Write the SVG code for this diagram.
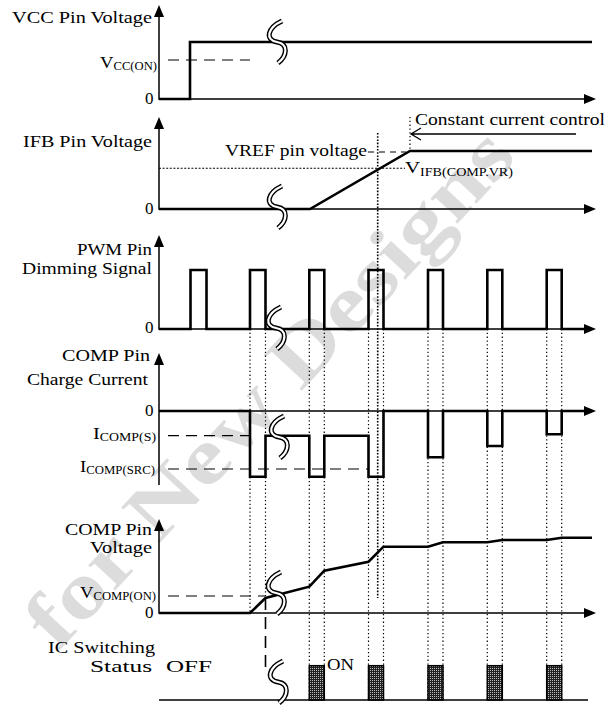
<svg xmlns="http://www.w3.org/2000/svg" width="616" height="705" viewBox="0 0 616 705" font-family="'Liberation Serif', 'Times New Roman', Times, serif">
<style>
.t{font-family:'Liberation Serif','Times New Roman',Times,serif;font-size:17px;fill:#000}
.sub{font-size:11.5px}
.axis{stroke:#000;stroke-width:1.5;fill:none}
.sig{stroke:#000;stroke-width:2.6;fill:none;stroke-linejoin:miter}
.dash{stroke:#000;stroke-width:1.2;fill:none;stroke-dasharray:11 7}
.dot{stroke:#000;stroke-width:1.2;fill:none;stroke-dasharray:1.3 2.5}
.dot2{stroke:#000;stroke-width:1.6;fill:none;stroke-dasharray:1.6 1.6}
.hdot{stroke:#000;stroke-width:1.1;fill:none;stroke-dasharray:2 1.6}
.brkb{stroke:#000;stroke-width:5;fill:none}
.brkw{stroke:#fff;stroke-width:2.2;fill:none}
.wm{font-family:'Liberation Serif','Times New Roman',Times,serif;font-size:80px;font-weight:700;fill:#dcdcdc}
</style>
<defs>
<path id="brk" d="M5,-21 C-10,-14 -12,-2 0,0 C12,2 10,14 1,21"/>
<pattern id="hatch" width="2" height="2" patternUnits="userSpaceOnUse">
<rect width="2" height="2" fill="#222"/>
<rect width="1" height="1" fill="#bbb"/>
</pattern>
</defs>
<rect width="616" height="705" fill="#fff"/>
<text class="wm" transform="translate(58,652) rotate(-47)" textLength="675" lengthAdjust="spacingAndGlyphs">for New Designs</text>

<g id="guides">
<path class="dot" d="M250,329V613M265.5,329V596M309.3,329V700M324.3,329V700M368.5,329V700M383.5,329V700M428,329V700M443,329V700M487.3,329V700M502.3,329V700M546.7,329V700M561.7,329V700"/>
<path class="dot2" d="M377.7,133V598"/>
<path class="dot" d="M410,117V150"/>
<path class="hdot" d="M159,168.3H405"/>
<path class="dash" d="M168,60H250"/>
<path class="dash" d="M168,435.7H252"/>
<path class="dash" d="M168,469H368"/>
<path class="dash" d="M168,596H265.5"/>
<path stroke="#000" stroke-width="1.6" fill="none" stroke-dasharray="12 7" d="M265.5,598V672"/>
<path stroke="#000" stroke-width="1.2" fill="none" stroke-dasharray="6 5" d="M368,152H406"/>
</g>

<g id="vcc">
<path class="axis" d="M159,14V99H586"/>
<polygon points="159,5 154,17 164,17"/>
<polygon points="596,99 584,94 584,104"/>
<path class="sig" d="M159,99H190V42H592"/>
<use href="#brk" class="brkb" x="277" y="42"/><use href="#brk" class="brkw" x="277" y="42"/>
<text class="t" x="12" y="23" textLength="140" lengthAdjust="spacingAndGlyphs">VCC Pin Voltage</text>
<text class="t" x="100" y="68" textLength="57" lengthAdjust="spacingAndGlyphs">V<tspan class="sub" dy="2">CC(ON)</tspan></text>
<text class="t" x="145" y="104">0</text>
</g>

<g id="ifb">
<path class="axis" d="M159,126V209H586"/>
<polygon points="159,117 154,129 164,129"/>
<polygon points="596,209 584,204 584,214"/>
<path class="sig" d="M159,209H310L410,151H592"/>
<use href="#brk" class="brkb" x="277" y="207"/><use href="#brk" class="brkw" x="277" y="207"/>
<text class="t" x="23" y="147" textLength="129" lengthAdjust="spacingAndGlyphs">IFB Pin Voltage</text>
<text class="t" x="225" y="156" textLength="142" lengthAdjust="spacingAndGlyphs">VREF pin voltage</text>
<text class="t" x="405" y="173" textLength="108" lengthAdjust="spacingAndGlyphs">V<tspan class="sub" dy="3">IFB(COMP.VR)</tspan></text>
<text class="t" x="415" y="125" textLength="190" lengthAdjust="spacingAndGlyphs">Constant current control</text>
<path stroke="#000" stroke-width="1.3" fill="none" d="M576,134H411M421,128L411,134L421,140"/>
<text class="t" x="145" y="214">0</text>
</g>

<g id="pwm">
<path class="axis" d="M159,244V329H586"/>
<polygon points="159,235 154,247 164,247"/>
<polygon points="596,329 584,324 584,334"/>
<path class="sig" d="M159,329H190.5V270H206.5V329H250V270H265.5V329H309.3V270H324.3V329H368.5V270H383.5V329H428V270H443V329H487.3V270H502.3V329H546.7V270H561.7V329H590"/>
<use href="#brk" class="brkb" x="276" y="328"/><use href="#brk" class="brkw" x="276" y="328"/>
<text class="t" x="77" y="255" textLength="75" lengthAdjust="spacingAndGlyphs">PWM Pin</text>
<text class="t" x="22" y="274" textLength="130" lengthAdjust="spacingAndGlyphs">Dimming Signal</text>
<text class="t" x="145" y="333">0</text>
</g>

<g id="comp-current">
<path class="axis" d="M159,362V485M159,411H586"/>
<polygon points="159,353 154,365 164,365"/>
<polygon points="596,411 584,406 584,416"/>
<path class="sig" d="M159,411H250V476.7H265.5V435.7H309.3V476.7H324.3V435.7H368.5V476.7H383.5V411H428V457.3H443V411H487.3V446H502.3V411H546.7V434.3H561.7V411H590"/>
<use href="#brk" class="brkb" x="279" y="437"/><use href="#brk" class="brkw" x="279" y="437"/>
<text class="t" x="62" y="361" textLength="88" lengthAdjust="spacingAndGlyphs">COMP Pin</text>
<text class="t" x="27" y="385" textLength="121" lengthAdjust="spacingAndGlyphs">Charge Current</text>
<text class="t" x="145" y="416">0</text>
<text class="t" x="93" y="439" textLength="63" lengthAdjust="spacingAndGlyphs">I<tspan class="sub" dy="2">COMP(S)</tspan></text>
<text class="t" x="80" y="472" textLength="75" lengthAdjust="spacingAndGlyphs">I<tspan class="sub" dy="2">COMP(SRC)</tspan></text>
</g>

<g id="comp-voltage">
<path class="axis" d="M159,528V613H586"/>
<polygon points="159,519 154,531 164,531"/>
<polygon points="596,613 584,608 584,618"/>
<path class="sig" d="M159,613H250L265.5,598L309.3,586.7L324.3,570.7L368.5,561.7L383.5,546.7H428L443,542.3H487.3L502.3,540H546.7L561.7,537.7H592"/>
<use href="#brk" class="brkb" x="276" y="593"/><use href="#brk" class="brkw" x="276" y="593"/>
<text class="t" x="65" y="535" textLength="87" lengthAdjust="spacingAndGlyphs">COMP Pin</text>
<text class="t" x="90" y="553" textLength="62" lengthAdjust="spacingAndGlyphs">Voltage</text>
<text class="t" x="80" y="598" textLength="76" lengthAdjust="spacingAndGlyphs">V<tspan class="sub" dy="2">COMP(ON)</tspan></text>
<text class="t" x="145" y="618">0</text>
</g>

<g id="ic-status">
<path class="axis" d="M159,700H588"/>
<g fill="url(#hatch)" stroke="#000" stroke-width="1.5">
<rect x="309.3" y="665.7" width="15" height="34.3"/>
<rect x="368.5" y="665.7" width="15" height="34.3"/>
<rect x="428" y="665.7" width="15" height="34.3"/>
<rect x="487.3" y="665.7" width="15" height="34.3"/>
<rect x="546.7" y="665.7" width="15" height="34.3"/>
</g>
<use href="#brk" class="brkb" x="278" y="682"/><use href="#brk" class="brkw" x="278" y="682"/>
<text class="t" x="48" y="653" textLength="107" lengthAdjust="spacingAndGlyphs">IC Switching</text>
<text class="t" x="90" y="672" textLength="62" lengthAdjust="spacingAndGlyphs">Status</text>
<text class="t" x="166" y="672" textLength="46" lengthAdjust="spacingAndGlyphs">OFF</text>
<text class="t" x="327" y="670" textLength="27" lengthAdjust="spacingAndGlyphs">ON</text>
</g>
</svg>
